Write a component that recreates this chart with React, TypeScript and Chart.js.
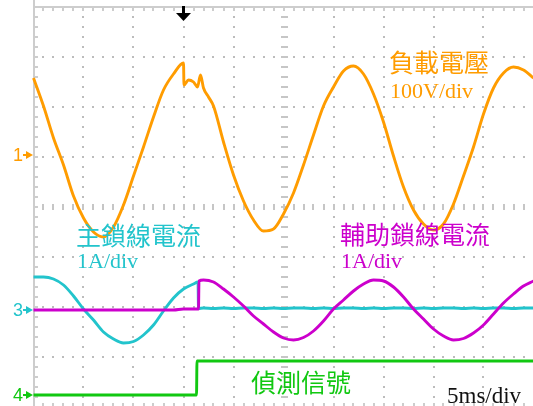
import React, { useEffect, useRef } from 'react';
import { Chart, registerables } from 'chart.js';

Chart.register(...registerables);

// ---- Screen geometry (graticule in divisions) ----
const WIDTH = 533;
const HEIGHT = 406;
const MS_PER_DIV = 5; // 5 ms/div, 10 horizontal divisions
const H_DIVS = 10;
const V_HALF_DIVS = 4;

// Channel settings: scale per division and ground-marker offset (divisions from centre)
const CH1_V_PER_DIV = 100; // load voltage
const CH1_OFFSET = 1.04;
const CH2_A_PER_DIV = 1; // main lock-line current
const CH2_OFFSET = -2.06;
const CH3_A_PER_DIV = 1; // auxiliary lock-line current
const CH3_OFFSET = -2.06;
const CH4_V_PER_DIV = 5; // detection signal
const CH4_OFFSET = -3.76;
const TRIGGER_MS = 15;

// ---- Captured waveforms (time in ms) ----
const LOAD_T = [
  0, 1, 2, 3, 4, 5, 6, 7, 8, 9, 10, 11, 12, 13, 14, 15,
  15.05, 15.5, 16, 16.4, 16.7, 17, 17.5,
  18, 19, 20, 21, 22, 23, 24, 25, 26, 27, 28, 29, 30, 31, 32, 33, 34,
  35, 36, 37, 38, 39, 40, 41, 42, 43, 44, 45, 46, 47, 48, 49, 50,
];
const LOAD_VOLTAGE = [
  154, 98, 34, -20, -82, -126, -154, -164, -144, -100, -42, 16, 76, 130, 162, 184,
  140, 150, 146, 136, 160, 134, 116,
  98, 26, -40, -92, -130, -152, -148, -118, -76, -20, 40, 98, 136, 168, 178, 162, 122,
  66, -2, -64, -110, -138, -150, -138, -98, -42, 16, 82, 134, 164, 176, 170, 154,
];

const MAIN_T = [
  0, 1, 2, 3, 4, 5, 6, 7, 8, 9, 10, 11, 12, 13, 14, 15, 16, 16.45, 16.5,
  17, 18, 19, 20, 21, 22, 23, 24, 25, 26, 27, 28, 29, 30, 31, 32, 33,
  34, 35, 36, 37, 38, 39, 40, 41, 42, 43, 44, 45, 46, 47, 48, 49, 50,
];
const MAIN_CURRENT = [
  0.66, 0.66, 0.62, 0.5, 0.28, 0.02, -0.2, -0.44, -0.58, -0.66, -0.63, -0.5, -0.3, -0.02, 0.24, 0.42, 0.52, 0.56, 0.03,
  0.04, 0.03, 0.04, 0.03, 0.04, 0.04, 0.03, 0.04, 0.03, 0.04, 0.04, 0.03, 0.04, 0.03, 0.04, 0.04, 0.03,
  0.04, 0.03, 0.04, 0.04, 0.03, 0.04, 0.03, 0.04, 0.04, 0.03, 0.04, 0.03, 0.04, 0.04, 0.03, 0.04, 0.04,
];

const AUX_T = [
  0, 1, 2, 3, 4, 5, 6, 7, 8, 9, 10, 11, 12, 13, 14, 15, 16, 16.5, 16.55,
  17, 18, 19, 20, 21, 22, 23, 24, 25, 26, 27, 28, 29, 30, 31, 32, 33,
  34, 35, 36, 37, 38, 39, 40, 41, 42, 43, 44, 45, 46, 47, 48, 49, 50,
];
const AUX_CURRENT = [
  0, 0, 0, 0, 0, 0, 0, 0, 0, 0, 0, 0, 0, 0, 0, 0.02, 0.02, 0.02, 0.58,
  0.6, 0.56, 0.42, 0.26, 0.08, -0.12, -0.28, -0.44, -0.56, -0.6, -0.55, -0.42, -0.22, 0.02, 0.2, 0.38, 0.52,
  0.6, 0.58, 0.46, 0.26, 0.02, -0.18, -0.38, -0.52, -0.6, -0.57, -0.46, -0.3, -0.08, 0.14, 0.32, 0.48, 0.58,
];

const DETECT_T = [0, 16.3, 16.35, 50];
const DETECT_SIGNAL = [0, 0, 3.4, 3.4];

// ---- Colours ----
const ORANGE = '#ff9c00';
const CYAN = '#22c4cc';
const MAGENTA = '#cc00cc';
const GREEN = '#11c811';
const GRID = '#bcbcbc';

const toPoints = (t: number[], v: number[], perDiv: number, offset: number) =>
  t.map((x, i) => ({ x, y: offset + v[i] / perDiv }));

const CJK = "'Noto Sans CJK TC', 'Noto Sans CJK SC', sans-serif";
const SERIF = "'Liberation Serif', 'DejaVu Serif', serif";

const scopePlugin = {
  id: 'scopeScreen',
  beforeDatasetsDraw(chart: any) {
    const { ctx } = chart;
    const xs = chart.scales.x;
    const ys = chart.scales.y;
    const px = (t: number) => Math.round(xs.getPixelForValue(t));
    const py = (d: number) => Math.round(ys.getPixelForValue(d));
    const tEnd = MS_PER_DIV * H_DIVS;
    const minorMs = MS_PER_DIV / 5;
    ctx.save();

    // dotted division lines
    ctx.fillStyle = GRID;
    for (let k = 1; k <= H_DIVS; k++) {
      if (k === H_DIVS / 2) continue;
      const x = px(k * MS_PER_DIV);
      for (let m = 0; m <= V_HALF_DIVS * 10; m++) {
        ctx.fillRect(x - 1, py(-V_HALF_DIVS + m * 0.2) - 1, 2, 2);
      }
    }
    for (let d = -V_HALF_DIVS + 1; d < V_HALF_DIVS; d++) {
      if (d === 0) continue;
      const y = py(d);
      for (let m = 0; m <= tEnd / minorMs; m++) {
        ctx.fillRect(px(m * minorMs) - 1, y - 1, 2, 2);
      }
    }

    // centre axes with minor ticks
    ctx.fillStyle = '#c6c6c6';
    const cy = py(0);
    for (let m = 0; m <= tEnd / minorMs; m++) {
      ctx.fillRect(px(m * minorMs) - 1, cy - 3, 2, 6);
    }
    const cx = px(tEnd / 2);
    for (let m = 0; m <= V_HALF_DIVS * 10; m++) {
      ctx.fillRect(cx - 3, py(-V_HALF_DIVS + m * 0.2) - 1, 7, 2);
    }

    // frame with ticks
    const left = px(0);
    const top = py(V_HALF_DIVS);
    const bottom = py(-V_HALF_DIVS);
    ctx.fillStyle = '#cdcdcd';
    ctx.fillRect(left - 1, 0, 2, HEIGHT);
    ctx.fillRect(left, top - 1, WIDTH, 2);
    for (let m = 0; m <= tEnd / minorMs; m++) {
      const x = px(m * minorMs);
      ctx.fillRect(x - 1, top, 2, 4);
      ctx.fillRect(x - 1, bottom - 4, 2, 4);
    }
    for (let m = 0; m <= V_HALF_DIVS * 10; m++) {
      ctx.fillRect(left, py(-V_HALF_DIVS + m * 0.2) - 1, 4, 2);
    }
    ctx.restore();
  },
  afterDatasetsDraw(chart: any) {
    const { ctx } = chart;
    const xs = chart.scales.x;
    const ys = chart.scales.y;
    const py = (d: number) => ys.getPixelForValue(d);
    ctx.save();

    // channel ground markers
    const marker = (label: string, color: string, div: number) => {
      const y = Math.round(py(div));
      ctx.fillStyle = color;
      ctx.strokeStyle = color;
      ctx.font = "18px 'Liberation Sans', Arial, sans-serif";
      ctx.textAlign = 'left';
      ctx.textBaseline = 'middle';
      ctx.fillText(label, 13, y + 1);
      ctx.lineWidth = 2;
      ctx.beginPath();
      ctx.moveTo(23, y);
      ctx.lineTo(28, y);
      ctx.stroke();
      ctx.beginPath();
      ctx.moveTo(26, y - 4);
      ctx.lineTo(33, y);
      ctx.lineTo(26, y + 4);
      ctx.closePath();
      ctx.fill();
    };
    marker('1', ORANGE, CH1_OFFSET);
    marker('3', CYAN, CH2_OFFSET);
    marker('4', GREEN, CH4_OFFSET);

    // trigger position marker
    const tx = xs.getPixelForValue(TRIGGER_MS);
    ctx.fillStyle = '#000';
    ctx.fillRect(tx - 1.5, 6, 3, 8);
    ctx.beginPath();
    ctx.moveTo(tx - 7.5, 13);
    ctx.lineTo(tx + 7.5, 13);
    ctx.lineTo(tx, 21);
    ctx.closePath();
    ctx.fill();

    // channel captions
    const caption = (title: string, scale: string, color: string, x: number, y: number, scaleBase: number) => {
      ctx.fillStyle = color;
      ctx.textAlign = 'left';
      ctx.textBaseline = 'middle';
      ctx.font = `25px ${CJK}`;
      ctx.fillText(title, x, y);
      if (scale) {
        ctx.font = `22px ${SERIF}`;
        ctx.textBaseline = 'alphabetic';
        ctx.fillText(scale, x + 1, scaleBase);
      }
    };
    caption('負載電壓', `${CH1_V_PER_DIV}V/div`, ORANGE, 389, 62, 98);
    caption('主鎖線電流', `${CH2_A_PER_DIV}A/div`, CYAN, 76, 235, 268);
    caption('輔助鎖線電流', `${CH3_A_PER_DIV}A/div`, MAGENTA, 340, 234, 268);
    caption('偵測信號', '', GREEN, 251, 382, 0);

    ctx.fillStyle = '#111';
    ctx.font = `23px ${SERIF}`;
    ctx.textBaseline = 'alphabetic';
    ctx.fillText(`${MS_PER_DIV}ms/div`, 447, 403);
    ctx.restore();
  },
};

export default function App() {
  const canvasRef = useRef<HTMLCanvasElement | null>(null);

  useEffect(() => {
    const canvas = canvasRef.current;
    if (!canvas) return;
    const line = (label: string, color: string, data: { x: number; y: number }[]) => ({
      label,
      data,
      borderColor: color,
      backgroundColor: color,
      borderWidth: 2.9,
      pointRadius: 0,
      fill: false,
      cubicInterpolationMode: 'monotone' as const,
    });
    const chart = new Chart(canvas, {
      type: 'line',
      data: {
        datasets: [
          line('輔助鎖線電流', MAGENTA, toPoints(AUX_T, AUX_CURRENT, CH3_A_PER_DIV, CH3_OFFSET)),
          line('主鎖線電流', CYAN, toPoints(MAIN_T, MAIN_CURRENT, CH2_A_PER_DIV, CH2_OFFSET)),
          line('負載電壓', ORANGE, toPoints(LOAD_T, LOAD_VOLTAGE, CH1_V_PER_DIV, CH1_OFFSET)),
          line('偵測信號', GREEN, toPoints(DETECT_T, DETECT_SIGNAL, CH4_V_PER_DIV, CH4_OFFSET)),
        ],
      },
      options: {
        animation: false,
        responsive: false,
        maintainAspectRatio: false,
        devicePixelRatio: 1,
        layout: { padding: 0 },
        plugins: { legend: { display: false }, tooltip: { enabled: false } },
        events: [],
        scales: {
          x: { type: 'linear', min: -3.35, max: 49.95, display: false },
          y: { type: 'linear', min: -3.98, max: 4.14, display: false },
        },
      },
      plugins: [scopePlugin],
    });
    if (document.fonts && document.fonts.load) {
      Promise.all([
        document.fonts.load(`25px ${CJK}`, '負載電壓主鎖線電流輔助偵測信號'),
        document.fonts.load(`22px ${SERIF}`),
      ]).then(() => chart.render()).catch(() => {});
    }
    return () => chart.destroy();
  }, []);

  return (
    <div style={{ position: 'fixed', left: 0, top: 0, width: WIDTH, height: HEIGHT, background: '#fff' }}>
      <canvas ref={canvasRef} width={WIDTH} height={HEIGHT} style={{ display: 'block' }} />
    </div>
  );
}
